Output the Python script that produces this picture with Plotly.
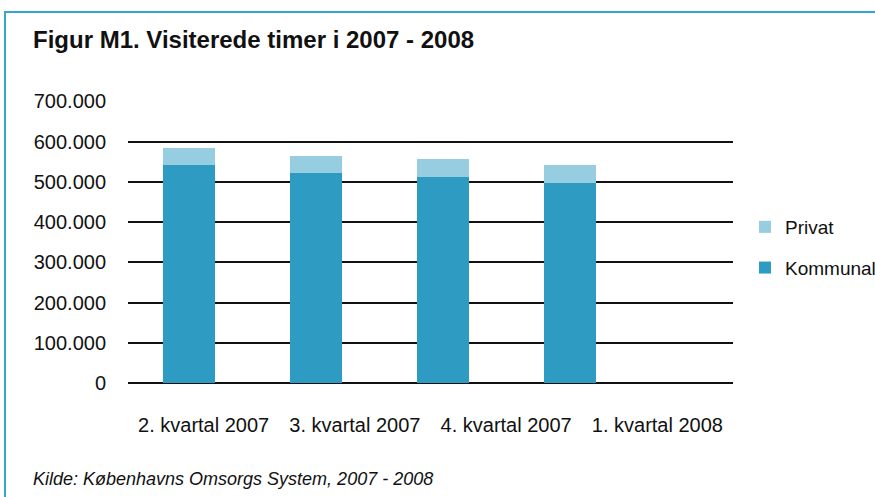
import plotly.graph_objects as go

categories = ["2. kvartal 2007", "3. kvartal 2007", "4. kvartal 2007", "1. kvartal 2008"]
kommunal = [543000, 523000, 513000, 498000]
privat = [42000, 42000, 45000, 45000]
y_ticks = [0, 100000, 200000, 300000, 400000, 500000, 600000, 700000]
y_tick_labels = ["0", "100.000", "200.000", "300.000", "400.000", "500.000", "600.000", "700.000"]

KOM_COLOR = "#2E9BC2"
PRI_COLOR = "#96CDE1"
FONT = "Liberation Sans"

positions = list(range(len(categories)))

fig = go.Figure()
fig.add_trace(go.Bar(x=positions, y=kommunal, name="Kommunal", marker_color=KOM_COLOR,
                     marker_line_width=0, legendgroup="k", legendrank=2))
fig.add_trace(go.Bar(x=positions, y=privat, name="Privat", marker_color=PRI_COLOR,
                     marker_line_width=0, legendgroup="p", legendrank=1))

W, H = 875, 497
L, R, T, B = 128, 142, 101, 114
pw = W - L - R
ph = H - T - B

def px_x(p):
    return (p - L) / pw

def px_y(p):
    return (H - B - p) / ph

fig.update_layout(
    width=W, height=H, autosize=False,
    margin=dict(l=L, r=R, t=T, b=B, pad=0, autoexpand=False),
    paper_bgcolor="white", plot_bgcolor="white",
    barmode="stack", bargap=0.59,
    font=dict(family=FONT, size=20, color="#111111"),
    xaxis=dict(range=[-0.48, 4.283], showticklabels=False, showgrid=False,
               zeroline=False, ticks="", showline=False),
    xaxis2=dict(overlaying="x", side="bottom", range=[-0.5, 3.5],
                tickmode="array", tickvals=positions, ticktext=categories,
                showgrid=False, zeroline=False, ticks="", showline=False,
                ticklabelstandoff=28, tickfont=dict(size=20, family=FONT, color="#111111")),
    yaxis=dict(range=[0, 701000], tickmode="array", tickvals=y_ticks, ticktext=y_tick_labels,
               showgrid=True, gridcolor="#111111", gridwidth=1.6,
               zeroline=True, zerolinecolor="#111111", zerolinewidth=1.6,
               ticks="", showline=False, ticklabelstandoff=21,
               tickfont=dict(size=20, family=FONT, color="#111111")),
    legend=dict(x=px_x(745), y=px_y(208), xanchor="left", yanchor="top",
                traceorder="grouped", tracegroupgap=13,
                font=dict(size=19, family=FONT, color="#111111"),
                bgcolor="rgba(0,0,0,0)", itemwidth=30),
    showlegend=True,
)

fig.add_trace(go.Scatter(x=positions, y=[0]*4, xaxis="x2", mode="markers",
                         marker=dict(opacity=0), showlegend=False, hoverinfo="skip"))

fig.add_annotation(text="<b>Figur M1. Visiterede timer i 2007 - 2008</b>",
                   xref="paper", yref="paper", x=px_x(31), y=px_y(40),
                   xanchor="left", yanchor="middle", showarrow=False,
                   font=dict(size=24, family=FONT, color="#111111"))
fig.add_annotation(text="<i>Kilde: Københavns Omsorgs System, 2007 - 2008</i>",
                   xref="paper", yref="paper", x=px_x(31), y=px_y(479),
                   xanchor="left", yanchor="middle", showarrow=False,
                   font=dict(size=18, family=FONT, color="#111111"))

fig.add_shape(type="rect", xref="paper", yref="paper",
              x0=px_x(5), x1=px_x(890), y0=px_y(510), y1=px_y(12),
              line=dict(color="#35A6CE", width=2), fillcolor="rgba(0,0,0,0)", layer="below")

fig.write_html(
    "out.html",
    config={"responsive": False, "displayModeBar": False},
    post_script="document.body.style.margin='0px';document.body.style.overflow='hidden';document.documentElement.style.overflow='hidden';",
)
